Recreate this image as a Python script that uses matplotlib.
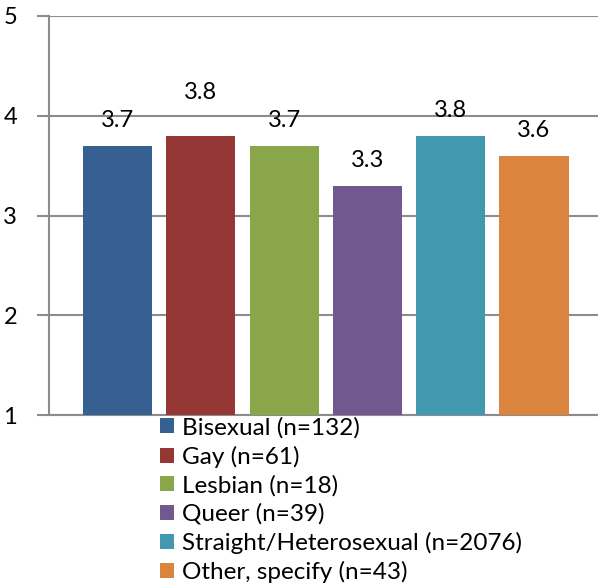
import matplotlib
matplotlib.use("Agg")
import matplotlib.pyplot as plt
from matplotlib.patches import Patch

categories = ["Bisexual (n=132)", "Gay (n=61)", "Lesbian (n=18)", "Queer (n=39)",
              "Straight/Heterosexual (n=2076)", "Other, specify (n=43)"]
values = [3.7, 3.8, 3.7, 3.3, 3.8, 3.6]
colors = ["#376092", "#953735", "#8AA64B", "#71588F", "#4198AF", "#DB843D"]
y_ticks = [1, 2, 3, 4, 5]

plt.rcParams["font.family"] = ["Lato", "DejaVu Sans"]

W, H = 598, 587
fig = plt.figure(figsize=(W / 100, H / 100), dpi=100)
ax = fig.add_axes([49 / W, (H - 415) / H, (W - 49) / W, 399 / H])

x = list(range(len(values)))
bars = ax.bar(x, [v - 1 for v in values], bottom=1, width=0.83, color=colors, zorder=3)

# value labels above each bar (Gay label sits a little higher)
offsets = [25, 43, 25, 25, 25, 25]
for xi, v, off in zip(x, values, offsets):
    ax.annotate(f"{v:.1f}", (xi, v), xytext=(0, off), textcoords="offset pixels",
                ha="center", va="center", fontsize=17, color="#000000", zorder=4)

ax.set_xlim(-0.822, -0.822 + (W - 49) / 83.3)
ax.set_ylim(1, 5)
ax.set_yticks(y_ticks)
ax.set_yticklabels([str(t) for t in y_ticks], fontsize=17)
ax.set_xticks([])
ax.yaxis.grid(True, color="#8C8C8C", linewidth=1.5, zorder=0)
ax.tick_params(axis="y", length=9, width=1.5, color="#8C8C8C", pad=14)
for side in ["top", "right"]:
    ax.spines[side].set_visible(False)
for side in ["left", "bottom"]:
    ax.spines[side].set_color("#8C8C8C")
    ax.spines[side].set_linewidth(1.5)

handles = [Patch(facecolor=c, edgecolor="none") for c in colors]
fig.legend(handles, categories, loc="upper left", bbox_to_anchor=(160 / W, (H - 417) / H),
           frameon=False, fontsize=17.5, handlelength=0.58, handleheight=0.58,
           handletextpad=0.33, labelspacing=0.29, borderpad=0, borderaxespad=0)

fig.savefig("out.png", dpi=100)
